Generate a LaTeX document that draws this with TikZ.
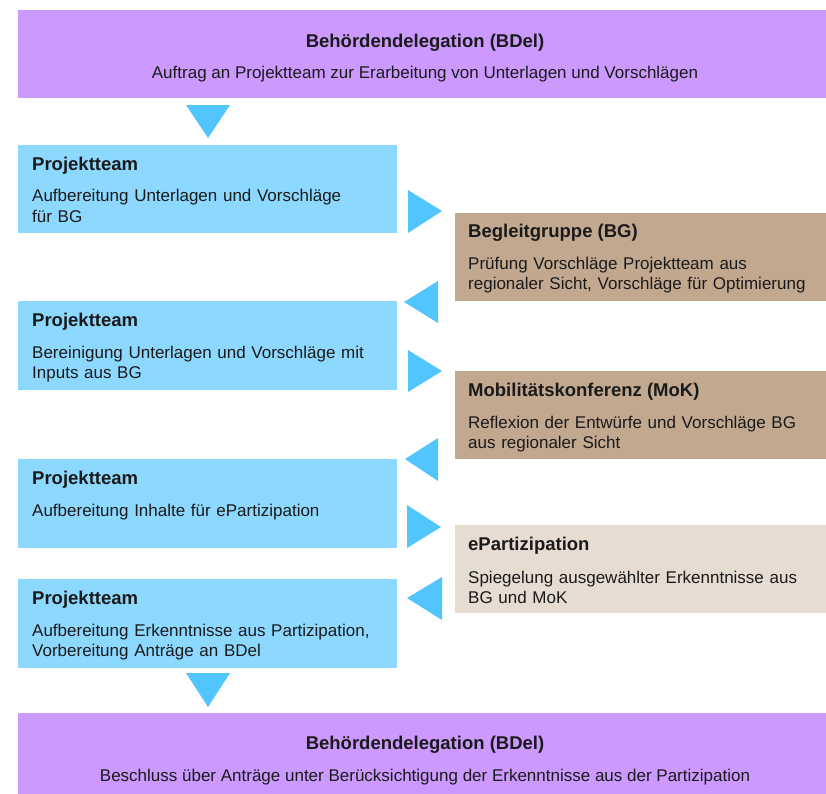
\documentclass[tikz,border=0pt]{standalone}
\usepackage{fontspec}
\setmainfont{Liberation Sans}
\definecolor{lila}{HTML}{CC99FF}
\definecolor{hellblau}{HTML}{8DD8FF}
\definecolor{pfeil}{HTML}{52C5FF}
\definecolor{braun}{HTML}{C3A890}
\definecolor{beige}{HTML}{E6DCD2}
\definecolor{txt}{HTML}{1A1A1A}
\begin{document}
\begin{tikzpicture}[x=1pt,y=-1pt,
  box/.style={draw=none, inner sep=0pt, outer sep=0pt, anchor=north west},
  ttl/.style={anchor=base west, inner sep=0pt, font=\fontsize{18.5}{22}\selectfont\bfseries, text=txt},
  bdy/.style={anchor=base west, inner sep=0pt, font=\fontsize{17}{20.5}\selectfont, text=txt, text width=400pt, align=left},
  cttl/.style={anchor=base, inner sep=0pt, font=\fontsize{18.5}{22}\selectfont\bfseries, text=txt},
  cbdy/.style={anchor=base, inner sep=0pt, font=\fontsize{17}{20.5}\selectfont, text=txt},
  tri/.style={fill=pfeil, draw=none}]
\useasboundingbox (0,0) rectangle (826,793);
\begin{scope}
\clip (0,0) rectangle (826,793);
% boxes
\node[box, fill=lila, minimum width=816pt, minimum height=88pt] (bdelA) at (18,10) {};
\node[box, fill=hellblau, minimum width=379pt, minimum height=88pt] (pt1) at (18,145) {};
\node[box, fill=braun, minimum width=380pt, minimum height=88pt] (bg) at (455,213) {};
\node[box, fill=hellblau, minimum width=379pt, minimum height=89pt] (pt2) at (18,301) {};
\node[box, fill=braun, minimum width=380pt, minimum height=88pt] (mok) at (455,371) {};
\node[box, fill=hellblau, minimum width=379pt, minimum height=89pt] (pt3) at (18,459) {};
\node[box, fill=beige, minimum width=380pt, minimum height=88pt] (epart) at (455,525) {};
\node[box, fill=hellblau, minimum width=379pt, minimum height=89pt] (pt4) at (18,579) {};
\node[box, fill=lila, minimum width=816pt, minimum height=90pt] (bdelB) at (18,713) {};
\end{scope}
% arrows (triangles)
\fill[tri] (186,105) -- (230,105) -- (208,138) -- cycle;
\fill[tri] (408,190) -- (408,233) -- (442,211) -- cycle;
\fill[tri] (438,281) -- (438,323) -- (404,302) -- cycle;
\fill[tri] (408,350) -- (408,392) -- (442,371) -- cycle;
\fill[tri] (438,438) -- (438,481) -- (405,459) -- cycle;
\fill[tri] (407,505) -- (407,548) -- (441,527) -- cycle;
\fill[tri] (442,577) -- (442,620) -- (407,598) -- cycle;
\fill[tri] (186,673) -- (230,673) -- (208,707) -- cycle;
% texts
\node[cttl] (bdelAt) at (425,47) {Behördendelegation (BDel)};
\node[cbdy] (bdelAb) at (425,78) {Auftrag an Projektteam zur Erarbeitung von Unterlagen und Vorschlägen};
\node[ttl] (pt1t) at (32,170) {Projektteam};
\node[bdy] (pt1b) at (32,201.5) {Aufbereitung Unterlagen und Vorschläge\\für BG};
\node[ttl] (bgt) at (468,237) {Begleitgruppe (BG)};
\node[bdy] (bgb) at (468,269) {Prüfung Vorschläge Projektteam aus\\regionaler Sicht, Vorschläge für Optimierung};
\node[ttl] (pt2t) at (32,326) {Projektteam};
\node[bdy] (pt2b) at (32,358) {Bereinigung Unterlagen und Vorschläge mit\\Inputs aus BG};
\node[ttl] (mokt) at (468,396) {Mobilitätskonferenz (MoK)};
\node[bdy] (mokb) at (468,428) {Reflexion der Entwürfe und Vorschläge BG\\aus regionaler Sicht};
\node[ttl] (pt3t) at (32,484) {Projektteam};
\node[bdy] (pt3b) at (32,516) {Aufbereitung Inhalte für ePartizipation};
\node[ttl] (epartt) at (468,550) {ePartizipation};
\node[bdy] (epartb) at (468,583) {Spiegelung ausgewählter Erkenntnisse aus\\BG und MoK};
\node[ttl] (pt4t) at (32,604) {Projektteam};
\node[bdy] (pt4b) at (32,636) {Aufbereitung Erkenntnisse aus Partizipation,\\Vorbereitung Anträge an BDel};
\node[cttl] (bdelBt) at (425,749) {Behördendelegation (BDel)};
\node[cbdy] (bdelBb) at (425,781) {Beschluss über Anträge unter Berücksichtigung der Erkenntnisse aus der Partizipation};
\end{tikzpicture}
\end{document}
